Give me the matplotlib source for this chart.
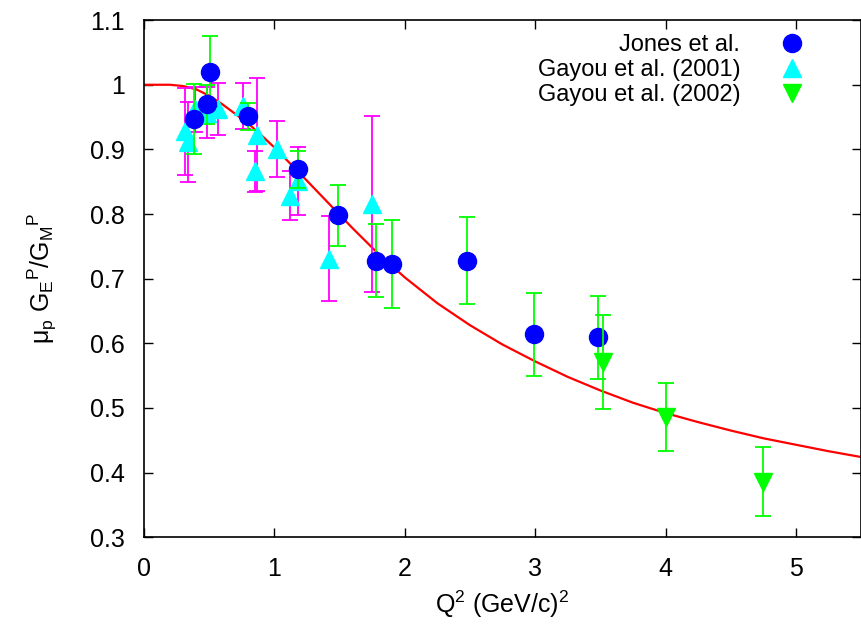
import numpy as np
import matplotlib
matplotlib.use("Agg")
import matplotlib.pyplot as plt
from matplotlib.ticker import FuncFormatter

# Jones et al.
jones_q2 = [0.38, 0.48, 0.51, 0.80, 1.18, 1.49, 1.78, 1.90, 2.48, 2.99, 3.48]
jones_r = [0.947, 0.970, 1.020, 0.951, 0.869, 0.798, 0.728, 0.722, 0.728, 0.614, 0.609]
jones_err = [0.054, 0.030, 0.055, 0.021, 0.028, 0.047, 0.056, 0.068, 0.068, 0.064, 0.064]

# Gayou et al. (2001)
g01_q2 = [0.315, 0.34, 0.39, 0.48, 0.57, 0.76, 0.85, 0.87, 1.02, 1.12, 1.18, 1.42, 1.75]
g01_r = [0.928, 0.911, 0.962, 0.957, 0.962, 0.967, 0.866, 0.923, 0.901, 0.828, 0.851, 0.731, 0.815]
g01_err = [0.067, 0.062, 0.035, 0.040, 0.040, 0.035, 0.032, 0.088, 0.043, 0.038, 0.053, 0.066, 0.136]

# Gayou et al. (2002)
g02_q2 = [3.52, 4.00, 4.75]
g02_r = [0.571, 0.486, 0.386]
g02_err = [0.072, 0.053, 0.053]

# fit curve
fit_q2 = [0.0, 0.2, 0.3, 0.4, 0.5, 0.6, 0.7, 0.8, 0.9, 1.0, 1.2, 1.4, 1.6, 1.8,
          2.0, 2.25, 2.5, 2.75, 3.0, 3.25, 3.5, 3.75, 4.0, 4.25, 4.5, 4.75,
          5.0, 5.25, 5.5]
fit_r = [1.000, 1.000, 0.998, 0.993, 0.983, 0.970, 0.955, 0.940, 0.922, 0.903,
         0.862, 0.820, 0.778, 0.738, 0.702, 0.662, 0.628, 0.598, 0.572, 0.548,
         0.527, 0.508, 0.492, 0.478, 0.465, 0.453, 0.443, 0.433, 0.424]

plt.rcParams["font.family"] = ["Liberation Sans", "DejaVu Sans"]
plt.rcParams["mathtext.fontset"] = "custom"
plt.rcParams["mathtext.rm"] = "Liberation Sans"
plt.rcParams["mathtext.it"] = "Liberation Sans"
plt.rcParams["mathtext.default"] = "regular"
plt.rc("font", size=18)

fig = plt.figure(figsize=(8.62, 6.29), dpi=100)
ax = fig.add_axes([0.167, 0.146, 0.832, 0.822])

ax.plot(fit_q2, fit_r, color="#ff0000", lw=1.6, zorder=2)

ms = 13
ax.errorbar(g01_q2, g01_r, yerr=g01_err, fmt="^", color="#00ffff", ecolor="#ff00ff",
            markersize=ms, elinewidth=1.3, capsize=6, capthick=1.3,
            label="Gayou et al. (2001)", zorder=3)
ax.errorbar(jones_q2, jones_r, yerr=jones_err, fmt="o", color="#0000ff", ecolor="#00ff00",
            markersize=ms, elinewidth=1.3, capsize=6, capthick=1.3,
            label="Jones et al.", zorder=4)
ax.errorbar(g02_q2, g02_r, yerr=g02_err, fmt="v", color="#00ff00", ecolor="#00ff00",
            markersize=ms, elinewidth=1.3, capsize=6, capthick=1.3,
            label="Gayou et al. (2002)", zorder=5)

ax.set_xlim(0, 5.5)
ax.set_ylim(0.3, 1.1)
ax.set_xticks([0, 1, 2, 3, 4, 5])
ax.set_yticks([0.3, 0.4, 0.5, 0.6, 0.7, 0.8, 0.9, 1.0, 1.1])
ax.yaxis.set_major_formatter(FuncFormatter(lambda v, p: "%g" % round(v, 2)))
ax.tick_params(direction="in", length=6.5, width=1.0, top=True, right=True, pad=14)
for s in ax.spines.values():
    s.set_linewidth(1.2)

ax.set_xlabel(r"Q$^2$ (GeV/c)$^2$", labelpad=6)
ax.set_ylabel(r"$\mu_p\ G_E{}^P/G_M{}^P$", labelpad=22)

h, l = ax.get_legend_handles_labels()
order = [1, 0, 2]
ax.legend([h[i][0] for i in order], [l[i] for i in order], loc="upper right",
          frameon=False, markerfirst=False, handlelength=1.0, handletextpad=1.7,
          labelspacing=0.12, borderaxespad=0.2, bbox_to_anchor=(0.94, 1.0),
          fontsize=17)

fig.savefig("out.png", dpi=100)
